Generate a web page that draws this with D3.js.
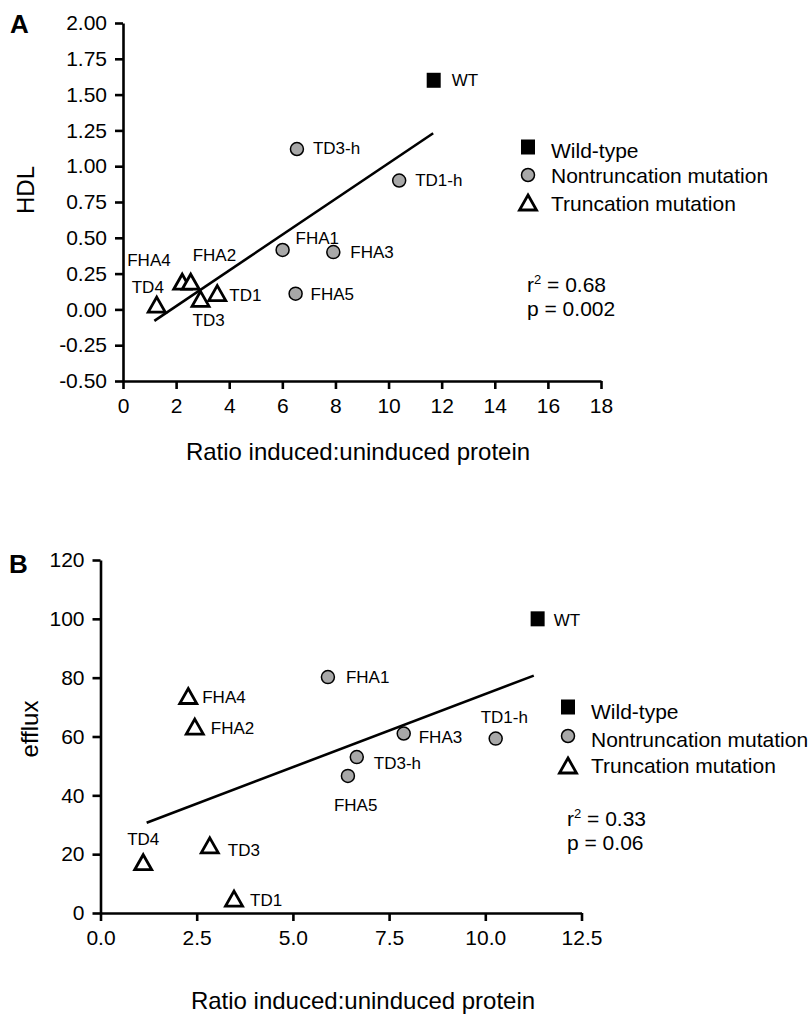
<!DOCTYPE html>
<html>
<head>
<meta charset="utf-8">
<script src="https://cdn.jsdelivr.net/npm/d3@7"></script>
<style>
  body { margin: 0; background: #fff; }
  text { font-family: "Liberation Sans", Arial, Helvetica, sans-serif; fill: #000; }
</style>
</head>
<body>
<div id="chart"></div>
<script>
// ---- data ----
const names = ["WT", "TD3-h", "TD1-h", "FHA1", "FHA3", "FHA5", "FHA4", "FHA2", "TD3", "TD1", "TD4"];
const mutationType = ["wild", "non", "non", "non", "non", "non", "trunc", "trunc", "trunc", "trunc", "trunc"];

// panel A
const ratioA = [11.7, 6.55, 10.4, 6.01, 7.92, 6.5, 2.23, 2.55, 2.92, 3.55, 1.27];
const hdl = [1.60, 1.12, 0.90, 0.415, 0.40, 0.11, 0.19, 0.19, 0.07, 0.11, 0.03];
const fitA = [[1.18, -0.08], [11.68, 1.23]];
const statsA = ["0.68", "0.002"];
const xTicksA = [0, 2, 4, 6, 8, 10, 12, 14, 16, 18];
const yTicksA = [-0.5, -0.25, 0, 0.25, 0.5, 0.75, 1, 1.25, 1.5, 1.75, 2];

// panel B
const ratioB = [11.36, 6.66, 10.27, 5.91, 7.88, 6.43, 2.28, 2.45, 2.84, 3.47, 1.11];
const efflux = [100, 53, 59.3, 80.2, 61, 46.6, 73.6, 63.2, 22.8, 4.7, 17.1];
const fitB = [[1.2, 30.7], [11.26, 80.7]];
const statsB = ["0.33", "0.06"];
const xTicksB = [0, 2.5, 5, 7.5, 10, 12.5];
const yTicksB = [0, 20, 40, 60, 80, 100, 120];

const legendLabels = ["Wild-type", "Nontruncation mutation", "Truncation mutation"];
const legendTypes = ["wild", "non", "trunc"];

// label placement (pixel offsets from the marker)
const labelOffA = {"WT": [18, 6], "TD3-h": [16, 5], "TD1-h": [16, 5], "FHA1": [13, -6], "FHA3": [17, 6],
  "FHA5": [15, 6], "FHA4": [-55, -16], "FHA2": [2, -21], "TD3": [-8, 27], "TD1": [12, 7], "TD4": [-25, -12]};
const labelOffB = {"WT": [16, 7], "TD3-h": [17, 12], "TD1-h": [-15, -16], "FHA1": [18, 6], "FHA3": [15, 9],
  "FHA5": [-14, 35], "FHA4": [14, 7], "FHA2": [16, 7], "TD3": [18, 10], "TD1": [16, 7], "TD4": [-16, -18]};

let svg = d3.select("#chart").append("svg")
  .attr("width", 809).attr("height", 1015)
  .style("background", "#fff");

const triPath = "M0,-8L8.5,7L-8.5,7Z";

function drawMarker(g, type, x, y) {
  if (type == "wild") {
    g.append("rect").attr("x", x - 7).attr("y", y - 7.5).attr("width", 14).attr("height", 15).attr("fill", "#000");
  } else if (type == "non") {
    g.append("circle").attr("cx", x).attr("cy", y).attr("r", 6.5)
      .attr("fill", "#a8a8a8").attr("stroke", "#000").attr("stroke-width", 1.5);
  } else {
    g.append("path").attr("d", triPath).attr("transform", "translate(" + x + "," + y + ")")
      .attr("fill", "#fff").attr("stroke", "#000").attr("stroke-width", 2.8).attr("stroke-linejoin", "miter");
  }
}

function drawPanel(p) {
  let g = svg.append("g");
  let x = d3.scaleLinear().domain(p.xDomain).range(p.xRange);
  let y = d3.scaleLinear().domain(p.yDomain).range(p.yRange);

  // axes
  let xAxis = g.append("g").attr("transform", "translate(0," + p.yRange[0] + ")")
    .call(d3.axisBottom(x).tickValues(p.xTicks).tickFormat(p.xFmt).tickSize(8).tickSizeOuter(0).tickPadding(9));
  let yAxis = g.append("g").attr("transform", "translate(" + p.xRange[0] + ",0)")
    .call(d3.axisLeft(y).tickValues(p.yTicks).tickFormat(p.yFmt).tickSize(8).tickSizeOuter(0).tickPadding(8));
  [xAxis, yAxis].forEach(function(a) {
    a.select(".domain").attr("stroke-width", 2.6);
    a.selectAll(".tick line").attr("stroke-width", 2.6);
    a.selectAll(".tick text").style("font-size", "21px").attr("fill", "#000");
  });

  // axis titles
  g.append("text").attr("x", p.xTitlePos[0]).attr("y", p.xTitlePos[1])
    .attr("text-anchor", "middle").style("font-size", "24px").text("Ratio induced:uninduced protein");
  g.append("text").attr("transform", "translate(" + p.yTitlePos[0] + "," + p.yTitlePos[1] + ") rotate(-90)")
    .attr("text-anchor", "middle").style("font-size", "24px").text(p.yTitle);

  // panel letter
  g.append("text").attr("x", p.letterPos[0]).attr("y", p.letterPos[1])
    .style("font-size", "26px").style("font-weight", "bold").text(p.letter);

  // regression line
  g.append("path").datum(p.fit)
    .attr("fill", "none").attr("stroke", "#000").attr("stroke-width", 2.6)
    .attr("d", d3.line().x(d => x(d[0])).y(d => y(d[1])));

  // points + labels
  names.forEach(function(n, i) {
    let px = x(p.xs[i]), py = y(p.ys[i]);
    drawMarker(g, mutationType[i], px, py);
    let off = p.labelOff[n];
    g.append("text").attr("x", px + off[0]).attr("y", py + off[1])
      .style("font-size", "17px").text(n);
  });

  // legend
  legendLabels.forEach(function(l, i) {
    drawMarker(g, legendTypes[i], p.legendX, p.legendY[i]);
    g.append("text").attr("x", p.legendX + 23).attr("y", p.legendText[i])
      .style("font-size", "21px").text(l);
  });

  // stats
  let t = g.append("text").attr("x", p.statsPos[0]).attr("y", p.statsPos[1]).style("font-size", "21px");
  t.append("tspan").text("r");
  t.append("tspan").attr("dy", -8).style("font-size", "13px").text("2");
  t.append("tspan").attr("dy", 8).text(" = " + p.stats[0]);
  g.append("text").attr("x", p.statsPos[0]).attr("y", p.statsPos[1] + 24)
    .style("font-size", "21px").text("p = " + p.stats[1]);
}

drawPanel({
  letter: "A", letterPos: [10, 33],
  xs: ratioA, ys: hdl, fit: fitA, stats: statsA,
  xDomain: [0, 18], xRange: [123, 601], yDomain: [-0.5, 2], yRange: [381, 23],
  xTicks: xTicksA, yTicks: yTicksA, xFmt: d3.format("d"), yFmt: d => d.toFixed(2),
  yTitle: "HDL", yTitlePos: [34, 190], xTitlePos: [358, 460],
  labelOff: labelOffA,
  legendX: 528, legendY: [147, 175, 203], legendText: [158, 183, 211],
  statsPos: [527, 292]
});

drawPanel({
  letter: "B", letterPos: [9, 573],
  xs: ratioB, ys: efflux, fit: fitB, stats: statsB,
  xDomain: [0, 12.5], xRange: [100.5, 581.5], yDomain: [0, 120], yRange: [913, 560],
  xTicks: xTicksB, yTicks: yTicksB, xFmt: d => d.toFixed(1), yFmt: d3.format("d"),
  yTitle: "efflux", yTitlePos: [38, 729], xTitlePos: [363, 1009],
  labelOff: labelOffB,
  legendX: 568, legendY: [707, 736, 766], legendText: [719, 747, 773],
  statsPos: [567, 826]
});
</script>
</body>
</html>
